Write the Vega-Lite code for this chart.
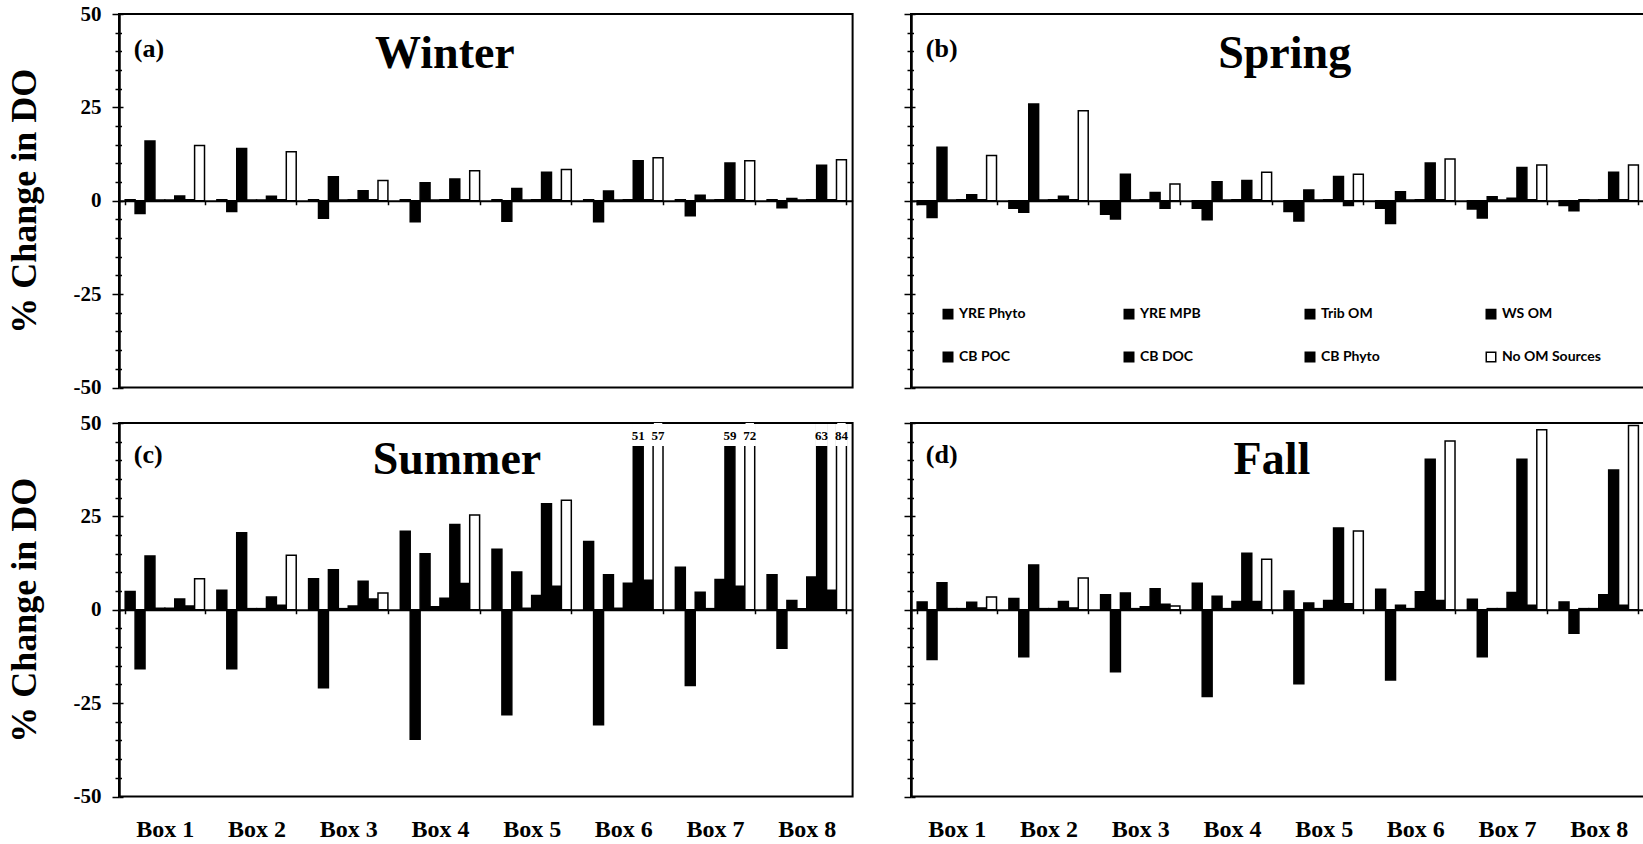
{
  "$schema": "https://vega.github.io/schema/vega-lite/v6.json",
  "background": "white",
  "padding": {"left": 5, "top": 2, "right": 0, "bottom": 0},
  "bounds": "flush",
  "columns": 2,
  "spacing": {"row": 35, "column": 58},
  "config": {
    "view": {"stroke": "black", "strokeWidth": 2},
    "axis": {"grid": false, "domainColor": "black", "tickColor": "black", "labelColor": "black", "titleColor": "black"}
  },
  "resolve": {"legend": {"color": "independent"}},
  "datasets": {
    "do": [
      {"season": "Winter", "box": "Box 1", "source": "YRE Phyto", "value": 0.3},
      {"season": "Winter", "box": "Box 1", "source": "YRE MPB", "value": -3.4},
      {"season": "Winter", "box": "Box 1", "source": "Trib OM", "value": 16.0},
      {"season": "Winter", "box": "Box 1", "source": "WS OM", "value": 0.2},
      {"season": "Winter", "box": "Box 1", "source": "CB POC", "value": 0.2},
      {"season": "Winter", "box": "Box 1", "source": "CB DOC", "value": 1.3},
      {"season": "Winter", "box": "Box 1", "source": "CB Phyto", "value": 0.3},
      {"season": "Winter", "box": "Box 1", "source": "No OM Sources", "value": 14.8},
      {"season": "Winter", "box": "Box 2", "source": "YRE Phyto", "value": 0.3},
      {"season": "Winter", "box": "Box 2", "source": "YRE MPB", "value": -2.9},
      {"season": "Winter", "box": "Box 2", "source": "Trib OM", "value": 14.0},
      {"season": "Winter", "box": "Box 2", "source": "WS OM", "value": 0.2},
      {"season": "Winter", "box": "Box 2", "source": "CB POC", "value": 0.2},
      {"season": "Winter", "box": "Box 2", "source": "CB DOC", "value": 1.2},
      {"season": "Winter", "box": "Box 2", "source": "CB Phyto", "value": 0.3},
      {"season": "Winter", "box": "Box 2", "source": "No OM Sources", "value": 13.1},
      {"season": "Winter", "box": "Box 3", "source": "YRE Phyto", "value": 0.3},
      {"season": "Winter", "box": "Box 3", "source": "YRE MPB", "value": -4.7},
      {"season": "Winter", "box": "Box 3", "source": "Trib OM", "value": 6.4},
      {"season": "Winter", "box": "Box 3", "source": "WS OM", "value": 0.2},
      {"season": "Winter", "box": "Box 3", "source": "CB POC", "value": 0.3},
      {"season": "Winter", "box": "Box 3", "source": "CB DOC", "value": 2.7},
      {"season": "Winter", "box": "Box 3", "source": "CB Phyto", "value": 0.3},
      {"season": "Winter", "box": "Box 3", "source": "No OM Sources", "value": 5.4},
      {"season": "Winter", "box": "Box 4", "source": "YRE Phyto", "value": 0.3},
      {"season": "Winter", "box": "Box 4", "source": "YRE MPB", "value": -5.6},
      {"season": "Winter", "box": "Box 4", "source": "Trib OM", "value": 4.8},
      {"season": "Winter", "box": "Box 4", "source": "WS OM", "value": 0.2},
      {"season": "Winter", "box": "Box 4", "source": "CB POC", "value": 0.3},
      {"season": "Winter", "box": "Box 4", "source": "CB DOC", "value": 5.8},
      {"season": "Winter", "box": "Box 4", "source": "CB Phyto", "value": 0.3},
      {"season": "Winter", "box": "Box 4", "source": "No OM Sources", "value": 8.0},
      {"season": "Winter", "box": "Box 5", "source": "YRE Phyto", "value": 0.3},
      {"season": "Winter", "box": "Box 5", "source": "YRE MPB", "value": -5.5},
      {"season": "Winter", "box": "Box 5", "source": "Trib OM", "value": 3.3},
      {"season": "Winter", "box": "Box 5", "source": "WS OM", "value": 0.2},
      {"season": "Winter", "box": "Box 5", "source": "CB POC", "value": 0.3},
      {"season": "Winter", "box": "Box 5", "source": "CB DOC", "value": 7.6},
      {"season": "Winter", "box": "Box 5", "source": "CB Phyto", "value": 0.3},
      {"season": "Winter", "box": "Box 5", "source": "No OM Sources", "value": 8.4},
      {"season": "Winter", "box": "Box 6", "source": "YRE Phyto", "value": 0.3},
      {"season": "Winter", "box": "Box 6", "source": "YRE MPB", "value": -5.6},
      {"season": "Winter", "box": "Box 6", "source": "Trib OM", "value": 2.6},
      {"season": "Winter", "box": "Box 6", "source": "WS OM", "value": 0.2},
      {"season": "Winter", "box": "Box 6", "source": "CB POC", "value": 0.3},
      {"season": "Winter", "box": "Box 6", "source": "CB DOC", "value": 10.7},
      {"season": "Winter", "box": "Box 6", "source": "CB Phyto", "value": 0.3},
      {"season": "Winter", "box": "Box 6", "source": "No OM Sources", "value": 11.5},
      {"season": "Winter", "box": "Box 7", "source": "YRE Phyto", "value": 0.3},
      {"season": "Winter", "box": "Box 7", "source": "YRE MPB", "value": -4.0},
      {"season": "Winter", "box": "Box 7", "source": "Trib OM", "value": 1.5},
      {"season": "Winter", "box": "Box 7", "source": "WS OM", "value": 0.2},
      {"season": "Winter", "box": "Box 7", "source": "CB POC", "value": 0.3},
      {"season": "Winter", "box": "Box 7", "source": "CB DOC", "value": 10.1},
      {"season": "Winter", "box": "Box 7", "source": "CB Phyto", "value": 0.3},
      {"season": "Winter", "box": "Box 7", "source": "No OM Sources", "value": 10.7},
      {"season": "Winter", "box": "Box 8", "source": "YRE Phyto", "value": 0.3},
      {"season": "Winter", "box": "Box 8", "source": "YRE MPB", "value": -1.9},
      {"season": "Winter", "box": "Box 8", "source": "Trib OM", "value": 0.6},
      {"season": "Winter", "box": "Box 8", "source": "WS OM", "value": 0.2},
      {"season": "Winter", "box": "Box 8", "source": "CB POC", "value": 0.3},
      {"season": "Winter", "box": "Box 8", "source": "CB DOC", "value": 9.5},
      {"season": "Winter", "box": "Box 8", "source": "CB Phyto", "value": 0.3},
      {"season": "Winter", "box": "Box 8", "source": "No OM Sources", "value": 11.0},

      {"season": "Spring", "box": "Box 1", "source": "YRE Phyto", "value": -1.0},
      {"season": "Spring", "box": "Box 1", "source": "YRE MPB", "value": -4.5},
      {"season": "Spring", "box": "Box 1", "source": "Trib OM", "value": 14.3},
      {"season": "Spring", "box": "Box 1", "source": "WS OM", "value": 0.2},
      {"season": "Spring", "box": "Box 1", "source": "CB POC", "value": 0.3},
      {"season": "Spring", "box": "Box 1", "source": "CB DOC", "value": 1.6},
      {"season": "Spring", "box": "Box 1", "source": "CB Phyto", "value": 0.3},
      {"season": "Spring", "box": "Box 1", "source": "No OM Sources", "value": 12.1},
      {"season": "Spring", "box": "Box 2", "source": "YRE Phyto", "value": -2.0},
      {"season": "Spring", "box": "Box 2", "source": "YRE MPB", "value": -3.1},
      {"season": "Spring", "box": "Box 2", "source": "Trib OM", "value": 25.9},
      {"season": "Spring", "box": "Box 2", "source": "WS OM", "value": 0.2},
      {"season": "Spring", "box": "Box 2", "source": "CB POC", "value": 0.3},
      {"season": "Spring", "box": "Box 2", "source": "CB DOC", "value": 1.2},
      {"season": "Spring", "box": "Box 2", "source": "CB Phyto", "value": 0.3},
      {"season": "Spring", "box": "Box 2", "source": "No OM Sources", "value": 24.1},
      {"season": "Spring", "box": "Box 3", "source": "YRE Phyto", "value": -3.6},
      {"season": "Spring", "box": "Box 3", "source": "YRE MPB", "value": -4.9},
      {"season": "Spring", "box": "Box 3", "source": "Trib OM", "value": 7.1},
      {"season": "Spring", "box": "Box 3", "source": "WS OM", "value": 0.2},
      {"season": "Spring", "box": "Box 3", "source": "CB POC", "value": 0.3},
      {"season": "Spring", "box": "Box 3", "source": "CB DOC", "value": 2.2},
      {"season": "Spring", "box": "Box 3", "source": "CB Phyto", "value": -2.0},
      {"season": "Spring", "box": "Box 3", "source": "No OM Sources", "value": 4.5},
      {"season": "Spring", "box": "Box 4", "source": "YRE Phyto", "value": -2.0},
      {"season": "Spring", "box": "Box 4", "source": "YRE MPB", "value": -5.1},
      {"season": "Spring", "box": "Box 4", "source": "Trib OM", "value": 5.1},
      {"season": "Spring", "box": "Box 4", "source": "WS OM", "value": 0.2},
      {"season": "Spring", "box": "Box 4", "source": "CB POC", "value": 0.3},
      {"season": "Spring", "box": "Box 4", "source": "CB DOC", "value": 5.4},
      {"season": "Spring", "box": "Box 4", "source": "CB Phyto", "value": 0.3},
      {"season": "Spring", "box": "Box 4", "source": "No OM Sources", "value": 7.6},
      {"season": "Spring", "box": "Box 5", "source": "YRE Phyto", "value": -2.9},
      {"season": "Spring", "box": "Box 5", "source": "YRE MPB", "value": -5.4},
      {"season": "Spring", "box": "Box 5", "source": "Trib OM", "value": 2.9},
      {"season": "Spring", "box": "Box 5", "source": "WS OM", "value": 0.2},
      {"season": "Spring", "box": "Box 5", "source": "CB POC", "value": 0.3},
      {"season": "Spring", "box": "Box 5", "source": "CB DOC", "value": 6.5},
      {"season": "Spring", "box": "Box 5", "source": "CB Phyto", "value": -1.3},
      {"season": "Spring", "box": "Box 5", "source": "No OM Sources", "value": 7.1},
      {"season": "Spring", "box": "Box 6", "source": "YRE Phyto", "value": -2.0},
      {"season": "Spring", "box": "Box 6", "source": "YRE MPB", "value": -6.1},
      {"season": "Spring", "box": "Box 6", "source": "Trib OM", "value": 2.4},
      {"season": "Spring", "box": "Box 6", "source": "WS OM", "value": 0.2},
      {"season": "Spring", "box": "Box 6", "source": "CB POC", "value": 0.3},
      {"season": "Spring", "box": "Box 6", "source": "CB DOC", "value": 10.1},
      {"season": "Spring", "box": "Box 6", "source": "CB Phyto", "value": 0.3},
      {"season": "Spring", "box": "Box 6", "source": "No OM Sources", "value": 11.2},
      {"season": "Spring", "box": "Box 7", "source": "YRE Phyto", "value": -2.2},
      {"season": "Spring", "box": "Box 7", "source": "YRE MPB", "value": -4.6},
      {"season": "Spring", "box": "Box 7", "source": "Trib OM", "value": 1.1},
      {"season": "Spring", "box": "Box 7", "source": "WS OM", "value": 0.2},
      {"season": "Spring", "box": "Box 7", "source": "CB POC", "value": 0.7},
      {"season": "Spring", "box": "Box 7", "source": "CB DOC", "value": 8.9},
      {"season": "Spring", "box": "Box 7", "source": "CB Phyto", "value": 0.3},
      {"season": "Spring", "box": "Box 7", "source": "No OM Sources", "value": 9.6},
      {"season": "Spring", "box": "Box 8", "source": "YRE Phyto", "value": -1.3},
      {"season": "Spring", "box": "Box 8", "source": "YRE MPB", "value": -2.7},
      {"season": "Spring", "box": "Box 8", "source": "Trib OM", "value": 0.3},
      {"season": "Spring", "box": "Box 8", "source": "WS OM", "value": 0.2},
      {"season": "Spring", "box": "Box 8", "source": "CB POC", "value": 0.3},
      {"season": "Spring", "box": "Box 8", "source": "CB DOC", "value": 7.6},
      {"season": "Spring", "box": "Box 8", "source": "CB Phyto", "value": 0.3},
      {"season": "Spring", "box": "Box 8", "source": "No OM Sources", "value": 9.6},

      {"season": "Summer", "box": "Box 1", "source": "YRE Phyto", "value": 4.9},
      {"season": "Summer", "box": "Box 1", "source": "YRE MPB", "value": -15.8},
      {"season": "Summer", "box": "Box 1", "source": "Trib OM", "value": 14.4},
      {"season": "Summer", "box": "Box 1", "source": "WS OM", "value": 0.4},
      {"season": "Summer", "box": "Box 1", "source": "CB POC", "value": 0.4},
      {"season": "Summer", "box": "Box 1", "source": "CB DOC", "value": 2.9},
      {"season": "Summer", "box": "Box 1", "source": "CB Phyto", "value": 1.0},
      {"season": "Summer", "box": "Box 1", "source": "No OM Sources", "value": 8.3},
      {"season": "Summer", "box": "Box 2", "source": "YRE Phyto", "value": 5.2},
      {"season": "Summer", "box": "Box 2", "source": "YRE MPB", "value": -15.8},
      {"season": "Summer", "box": "Box 2", "source": "Trib OM", "value": 20.6},
      {"season": "Summer", "box": "Box 2", "source": "WS OM", "value": 0.3},
      {"season": "Summer", "box": "Box 2", "source": "CB POC", "value": 0.3},
      {"season": "Summer", "box": "Box 2", "source": "CB DOC", "value": 3.4},
      {"season": "Summer", "box": "Box 2", "source": "CB Phyto", "value": 1.2},
      {"season": "Summer", "box": "Box 2", "source": "No OM Sources", "value": 14.6},
      {"season": "Summer", "box": "Box 3", "source": "YRE Phyto", "value": 8.3},
      {"season": "Summer", "box": "Box 3", "source": "YRE MPB", "value": -20.9},
      {"season": "Summer", "box": "Box 3", "source": "Trib OM", "value": 10.7},
      {"season": "Summer", "box": "Box 3", "source": "WS OM", "value": 0.3},
      {"season": "Summer", "box": "Box 3", "source": "CB POC", "value": 1.0},
      {"season": "Summer", "box": "Box 3", "source": "CB DOC", "value": 7.6},
      {"season": "Summer", "box": "Box 3", "source": "CB Phyto", "value": 2.9},
      {"season": "Summer", "box": "Box 3", "source": "No OM Sources", "value": 4.5},
      {"season": "Summer", "box": "Box 4", "source": "YRE Phyto", "value": 21.0},
      {"season": "Summer", "box": "Box 4", "source": "YRE MPB", "value": -34.7},
      {"season": "Summer", "box": "Box 4", "source": "Trib OM", "value": 15.0},
      {"season": "Summer", "box": "Box 4", "source": "WS OM", "value": 0.8},
      {"season": "Summer", "box": "Box 4", "source": "CB POC", "value": 3.1},
      {"season": "Summer", "box": "Box 4", "source": "CB DOC", "value": 22.8},
      {"season": "Summer", "box": "Box 4", "source": "CB Phyto", "value": 7.0},
      {"season": "Summer", "box": "Box 4", "source": "No OM Sources", "value": 25.4},
      {"season": "Summer", "box": "Box 5", "source": "YRE Phyto", "value": 16.2},
      {"season": "Summer", "box": "Box 5", "source": "YRE MPB", "value": -28.1},
      {"season": "Summer", "box": "Box 5", "source": "Trib OM", "value": 10.1},
      {"season": "Summer", "box": "Box 5", "source": "WS OM", "value": 0.4},
      {"season": "Summer", "box": "Box 5", "source": "CB POC", "value": 3.8},
      {"season": "Summer", "box": "Box 5", "source": "CB DOC", "value": 28.4},
      {"season": "Summer", "box": "Box 5", "source": "CB Phyto", "value": 6.3},
      {"season": "Summer", "box": "Box 5", "source": "No OM Sources", "value": 29.3},
      {"season": "Summer", "box": "Box 6", "source": "YRE Phyto", "value": 18.3},
      {"season": "Summer", "box": "Box 6", "source": "YRE MPB", "value": -30.8},
      {"season": "Summer", "box": "Box 6", "source": "Trib OM", "value": 9.4},
      {"season": "Summer", "box": "Box 6", "source": "WS OM", "value": 0.4},
      {"season": "Summer", "box": "Box 6", "source": "CB POC", "value": 7.1},
      {"season": "Summer", "box": "Box 6", "source": "CB DOC", "value": 51},
      {"season": "Summer", "box": "Box 6", "source": "CB Phyto", "value": 7.9},
      {"season": "Summer", "box": "Box 6", "source": "No OM Sources", "value": 57},
      {"season": "Summer", "box": "Box 7", "source": "YRE Phyto", "value": 11.4},
      {"season": "Summer", "box": "Box 7", "source": "YRE MPB", "value": -20.3},
      {"season": "Summer", "box": "Box 7", "source": "Trib OM", "value": 4.7},
      {"season": "Summer", "box": "Box 7", "source": "WS OM", "value": 0.3},
      {"season": "Summer", "box": "Box 7", "source": "CB POC", "value": 8.1},
      {"season": "Summer", "box": "Box 7", "source": "CB DOC", "value": 59},
      {"season": "Summer", "box": "Box 7", "source": "CB Phyto", "value": 6.3},
      {"season": "Summer", "box": "Box 7", "source": "No OM Sources", "value": 72},
      {"season": "Summer", "box": "Box 8", "source": "YRE Phyto", "value": 9.4},
      {"season": "Summer", "box": "Box 8", "source": "YRE MPB", "value": -10.3},
      {"season": "Summer", "box": "Box 8", "source": "Trib OM", "value": 2.5},
      {"season": "Summer", "box": "Box 8", "source": "WS OM", "value": 0.3},
      {"season": "Summer", "box": "Box 8", "source": "CB POC", "value": 8.8},
      {"season": "Summer", "box": "Box 8", "source": "CB DOC", "value": 63},
      {"season": "Summer", "box": "Box 8", "source": "CB Phyto", "value": 5.2},
      {"season": "Summer", "box": "Box 8", "source": "No OM Sources", "value": 84},

      {"season": "Fall", "box": "Box 1", "source": "YRE Phyto", "value": 2.1},
      {"season": "Fall", "box": "Box 1", "source": "YRE MPB", "value": -13.3},
      {"season": "Fall", "box": "Box 1", "source": "Trib OM", "value": 7.2},
      {"season": "Fall", "box": "Box 1", "source": "WS OM", "value": 0.3},
      {"season": "Fall", "box": "Box 1", "source": "CB POC", "value": 0.3},
      {"season": "Fall", "box": "Box 1", "source": "CB DOC", "value": 2.0},
      {"season": "Fall", "box": "Box 1", "source": "CB Phyto", "value": 0.5},
      {"season": "Fall", "box": "Box 1", "source": "No OM Sources", "value": 3.4},
      {"season": "Fall", "box": "Box 2", "source": "YRE Phyto", "value": 3.0},
      {"season": "Fall", "box": "Box 2", "source": "YRE MPB", "value": -12.6},
      {"season": "Fall", "box": "Box 2", "source": "Trib OM", "value": 12.0},
      {"season": "Fall", "box": "Box 2", "source": "WS OM", "value": 0.3},
      {"season": "Fall", "box": "Box 2", "source": "CB POC", "value": 0.3},
      {"season": "Fall", "box": "Box 2", "source": "CB DOC", "value": 2.2},
      {"season": "Fall", "box": "Box 2", "source": "CB Phyto", "value": 0.5},
      {"season": "Fall", "box": "Box 2", "source": "No OM Sources", "value": 8.5},
      {"season": "Fall", "box": "Box 3", "source": "YRE Phyto", "value": 4.0},
      {"season": "Fall", "box": "Box 3", "source": "YRE MPB", "value": -16.6},
      {"season": "Fall", "box": "Box 3", "source": "Trib OM", "value": 4.5},
      {"season": "Fall", "box": "Box 3", "source": "WS OM", "value": 0.3},
      {"season": "Fall", "box": "Box 3", "source": "CB POC", "value": 0.8},
      {"season": "Fall", "box": "Box 3", "source": "CB DOC", "value": 5.6},
      {"season": "Fall", "box": "Box 3", "source": "CB Phyto", "value": 1.5},
      {"season": "Fall", "box": "Box 3", "source": "No OM Sources", "value": 1.0},
      {"season": "Fall", "box": "Box 4", "source": "YRE Phyto", "value": 7.1},
      {"season": "Fall", "box": "Box 4", "source": "YRE MPB", "value": -23.2},
      {"season": "Fall", "box": "Box 4", "source": "Trib OM", "value": 3.6},
      {"season": "Fall", "box": "Box 4", "source": "WS OM", "value": 0.3},
      {"season": "Fall", "box": "Box 4", "source": "CB POC", "value": 2.2},
      {"season": "Fall", "box": "Box 4", "source": "CB DOC", "value": 15.1},
      {"season": "Fall", "box": "Box 4", "source": "CB Phyto", "value": 2.2},
      {"season": "Fall", "box": "Box 4", "source": "No OM Sources", "value": 13.5},
      {"season": "Fall", "box": "Box 5", "source": "YRE Phyto", "value": 5.0},
      {"season": "Fall", "box": "Box 5", "source": "YRE MPB", "value": -19.8},
      {"season": "Fall", "box": "Box 5", "source": "Trib OM", "value": 1.8},
      {"season": "Fall", "box": "Box 5", "source": "WS OM", "value": 0.3},
      {"season": "Fall", "box": "Box 5", "source": "CB POC", "value": 2.5},
      {"season": "Fall", "box": "Box 5", "source": "CB DOC", "value": 21.9},
      {"season": "Fall", "box": "Box 5", "source": "CB Phyto", "value": 1.6},
      {"season": "Fall", "box": "Box 5", "source": "No OM Sources", "value": 21.1},
      {"season": "Fall", "box": "Box 6", "source": "YRE Phyto", "value": 5.5},
      {"season": "Fall", "box": "Box 6", "source": "YRE MPB", "value": -18.8},
      {"season": "Fall", "box": "Box 6", "source": "Trib OM", "value": 1.2},
      {"season": "Fall", "box": "Box 6", "source": "WS OM", "value": 0.3},
      {"season": "Fall", "box": "Box 6", "source": "CB POC", "value": 4.8},
      {"season": "Fall", "box": "Box 6", "source": "CB DOC", "value": 40.3},
      {"season": "Fall", "box": "Box 6", "source": "CB Phyto", "value": 2.5},
      {"season": "Fall", "box": "Box 6", "source": "No OM Sources", "value": 45.2},
      {"season": "Fall", "box": "Box 7", "source": "YRE Phyto", "value": 2.8},
      {"season": "Fall", "box": "Box 7", "source": "YRE MPB", "value": -12.6},
      {"season": "Fall", "box": "Box 7", "source": "Trib OM", "value": 0.3},
      {"season": "Fall", "box": "Box 7", "source": "WS OM", "value": 0.3},
      {"season": "Fall", "box": "Box 7", "source": "CB POC", "value": 4.6},
      {"season": "Fall", "box": "Box 7", "source": "CB DOC", "value": 40.3},
      {"season": "Fall", "box": "Box 7", "source": "CB Phyto", "value": 1.2},
      {"season": "Fall", "box": "Box 7", "source": "No OM Sources", "value": 48.2},
      {"season": "Fall", "box": "Box 8", "source": "YRE Phyto", "value": 2.1},
      {"season": "Fall", "box": "Box 8", "source": "YRE MPB", "value": -6.3},
      {"season": "Fall", "box": "Box 8", "source": "Trib OM", "value": 0.3},
      {"season": "Fall", "box": "Box 8", "source": "WS OM", "value": 0.3},
      {"season": "Fall", "box": "Box 8", "source": "CB POC", "value": 4.0},
      {"season": "Fall", "box": "Box 8", "source": "CB DOC", "value": 37.4},
      {"season": "Fall", "box": "Box 8", "source": "CB Phyto", "value": 1.2},
      {"season": "Fall", "box": "Box 8", "source": "No OM Sources", "value": 49.3}
    ]
  },
  "concat": [
    {
      "width": 733.6,
      "height": 373.5,
      "resolve": {"axis": {"y": "independent"}},
      "layer": [
        {
          "data": {"name": "do"},
          "transform": [{"filter": "datum.season === 'Winter'"}],
          "mark": {"type": "bar", "stroke": "black", "strokeWidth": 1.5, "clip": true},
          "encoding": {
            "x": {"field": "box", "type": "nominal", "title": null,
              "scale": {"domain": ["Box 1","Box 2","Box 3","Box 4","Box 5","Box 6","Box 7","Box 8"], "paddingInner": 0.135, "paddingOuter": 0.0675},
              "axis": {"orient": "bottom", "offset": -186.75, "domainWidth": 2, "tickBand": "extent", "tickSize": 4, "tickWidth": 1.5, "labels": false, "zindex": 1}},
            "xOffset": {"field": "source", "type": "nominal",
              "scale": {"domain": ["YRE Phyto","YRE MPB","Trib OM","WS OM","CB POC","CB DOC","CB Phyto","No OM Sources"], "paddingInner": 0, "paddingOuter": 0}},
            "y": {"field": "value", "type": "quantitative", "scale": {"domain": [-50, 50], "nice": false, "zero": false},
              "axis": {"orient": "left", "values": [-50,-45,-40,-35,-30,-25,-20,-15,-10,-5,0,5,10,15,20,25,30,35,40,45,50],
                "labelExpr": "datum.value % 25 === 0 ? '' + datum.value : ''", "labelOverlap": false,
                "tickSize": {"condition": {"test": "datum.value % 25 === 0", "value": 7}, "value": 4},
                "tickWidth": 1.5, "domainWidth": 2.5,
                "labelFont": "Liberation Serif", "labelFontWeight": "bold", "labelFontSize": 21, "labelPadding": 11,
                "title": "% Change in DO", "titleFont": "Liberation Serif", "titleFontWeight": "bold", "titleFontSize": 36, "titlePadding": 30}},
            "color": {"field": "source", "type": "nominal",
              "scale": {"domain": ["YRE Phyto","YRE MPB","Trib OM","WS OM","CB POC","CB DOC","CB Phyto","No OM Sources"],
                "range": ["black","black","black","black","black","black","black","white"]}, "legend": null}
          }
        },
        {
          "data": {"values": [{"label": "(a)"}]},
          "mark": {"type": "text", "font": "Liberation Serif", "fontWeight": "bold", "fontSize": 26, "align": "left", "baseline": "middle", "dx": -31},
          "encoding": {"x": {"datum": "Box 1"}, "y": {"datum": 40.6,
              "axis": {"orient": "right", "offset": -733.6, "domain": false, "labels": false, "title": null,
                "values": [-50,-45,-40,-35,-30,-25,-20,-15,-10,-5,0,5,10,15,20,25,30,35,40,45,50],
                "tickSize": {"condition": {"test": "datum.value % 25 === 0", "value": 4}, "value": 2.5}, "tickWidth": 1.5, "zindex": 1}},
            "text": {"field": "label"}}
        },
        {
          "data": {"values": [{"label": "Winter"}]},
          "mark": {"type": "text", "font": "Liberation Serif", "fontWeight": "bold", "fontSize": 46, "align": "center", "baseline": "middle", "dx": 5},
          "encoding": {"x": {"datum": "Box 4"}, "y": {"datum": 39.3, "axis": null}, "text": {"field": "label"}}
        }
      ]
    },
    {
      "width": 733.6,
      "height": 373.5,
      "resolve": {"axis": {"y": "independent"}},
      "layer": [
        {
          "data": {"name": "do"},
          "transform": [{"filter": "datum.season === 'Spring'"}],
          "mark": {"type": "bar", "stroke": "black", "strokeWidth": 1.5, "clip": true},
          "encoding": {
            "x": {"field": "box", "type": "nominal", "title": null,
              "scale": {"domain": ["Box 1","Box 2","Box 3","Box 4","Box 5","Box 6","Box 7","Box 8"], "paddingInner": 0.135, "paddingOuter": 0.0675},
              "axis": {"orient": "bottom", "offset": -186.75, "domainWidth": 2, "tickBand": "extent", "tickSize": 4, "tickWidth": 1.5, "labels": false, "zindex": 1}},
            "xOffset": {"field": "source", "type": "nominal",
              "scale": {"domain": ["YRE Phyto","YRE MPB","Trib OM","WS OM","CB POC","CB DOC","CB Phyto","No OM Sources"], "paddingInner": 0, "paddingOuter": 0}},
            "y": {"field": "value", "type": "quantitative", "scale": {"domain": [-50, 50], "nice": false, "zero": false},
              "axis": {"orient": "left", "values": [-50,-45,-40,-35,-30,-25,-20,-15,-10,-5,0,5,10,15,20,25,30,35,40,45,50],
                "labels": false,
                "tickSize": {"condition": {"test": "datum.value % 25 === 0", "value": 7}, "value": 4},
                "tickWidth": 1.5, "domainWidth": 2.5, "title": null}},
            "color": {"field": "source", "type": "nominal",
              "scale": {"domain": ["YRE Phyto","YRE MPB","Trib OM","WS OM","CB POC","CB DOC","CB Phyto","No OM Sources"],
                "range": ["black","black","black","black","black","black","black","white"]},
              "legend": {"orient": "none", "legendX": 30, "legendY": 293, "columns": 4, "direction": "horizontal", "gridAlign": "all",
                "columnPadding": 63, "rowPadding": 27, "symbolType": "square", "symbolSize": 90, "symbolStrokeColor": "black", "symbolStrokeWidth": 1.5,
                "labelFont": "Lato", "labelFontWeight": "bold", "labelFontSize": 14, "labelColor": "black", "labelOffset": 4, "title": null}}
          }
        },
        {
          "data": {"values": [{"label": "(b)"}]},
          "mark": {"type": "text", "font": "Liberation Serif", "fontWeight": "bold", "fontSize": 26, "align": "left", "baseline": "middle", "dx": -31},
          "encoding": {"x": {"datum": "Box 1"}, "y": {"datum": 40.6,
              "axis": {"orient": "right", "offset": -733.6, "domain": false, "labels": false, "title": null,
                "values": [-50,-45,-40,-35,-30,-25,-20,-15,-10,-5,0,5,10,15,20,25,30,35,40,45,50],
                "tickSize": {"condition": {"test": "datum.value % 25 === 0", "value": 4}, "value": 2.5}, "tickWidth": 1.5, "zindex": 1}},
            "text": {"field": "label"}}
        },
        {
          "data": {"values": [{"label": "Spring"}]},
          "mark": {"type": "text", "font": "Liberation Serif", "fontWeight": "bold", "fontSize": 46, "align": "center", "baseline": "middle", "dx": -39},
          "encoding": {"x": {"datum": "Box 5"}, "y": {"datum": 39.3, "axis": null}, "text": {"field": "label"}}
        }
      ]
    },
    {
      "width": 733.6,
      "height": 373.5,
      "resolve": {"axis": {"y": "independent"}},
      "layer": [
        {
          "data": {"name": "do"},
          "transform": [{"filter": "datum.season === 'Summer'"}],
          "mark": {"type": "bar", "stroke": "black", "strokeWidth": 1.5, "clip": true},
          "encoding": {
            "x": {"field": "box", "type": "nominal", "title": null,
              "scale": {"domain": ["Box 1","Box 2","Box 3","Box 4","Box 5","Box 6","Box 7","Box 8"], "paddingInner": 0.135, "paddingOuter": 0.0675},
              "axis": {"orient": "bottom", "offset": -186.75, "domainWidth": 2, "tickBand": "extent", "tickSize": 4, "tickWidth": 1.5,
                "labels": true, "labelPadding": 203.75, "labelFont": "Liberation Serif", "labelFontWeight": "bold", "labelFontSize": 24, "labelAngle": 0, "labelOverlap": false, "zindex": 1}},
            "xOffset": {"field": "source", "type": "nominal",
              "scale": {"domain": ["YRE Phyto","YRE MPB","Trib OM","WS OM","CB POC","CB DOC","CB Phyto","No OM Sources"], "paddingInner": 0, "paddingOuter": 0}},
            "y": {"field": "value", "type": "quantitative", "scale": {"domain": [-50, 50], "nice": false, "zero": false},
              "axis": {"orient": "left", "values": [-50,-45,-40,-35,-30,-25,-20,-15,-10,-5,0,5,10,15,20,25,30,35,40,45,50],
                "labelExpr": "datum.value % 25 === 0 ? '' + datum.value : ''", "labelOverlap": false,
                "tickSize": {"condition": {"test": "datum.value % 25 === 0", "value": 7}, "value": 4},
                "tickWidth": 1.5, "domainWidth": 2.5,
                "labelFont": "Liberation Serif", "labelFontWeight": "bold", "labelFontSize": 21, "labelPadding": 11,
                "title": "% Change in DO", "titleFont": "Liberation Serif", "titleFontWeight": "bold", "titleFontSize": 36, "titlePadding": 30}},
            "color": {"field": "source", "type": "nominal",
              "scale": {"domain": ["YRE Phyto","YRE MPB","Trib OM","WS OM","CB POC","CB DOC","CB Phyto","No OM Sources"],
                "range": ["black","black","black","black","black","black","black","white"]}, "legend": null}
          }
        },
        {
          "data": {"name": "do"},
          "transform": [{"filter": "datum.season === 'Summer' && datum.value > 50"}],
          "mark": {"type": "bar", "fill": "white", "stroke": "white", "strokeWidth": 2.5},
          "encoding": {
            "x": {"field": "box", "type": "nominal"},
            "xOffset": {"field": "source", "type": "nominal"},
            "y": {"datum": 44.2, "axis": null},
            "y2": {"datum": 49.4}
          }
        },
        {
          "data": {"name": "do"},
          "transform": [{"filter": "datum.season === 'Summer' && datum.value > 50"}],
          "mark": {"type": "text", "font": "Liberation Serif", "fontWeight": "bold", "fontSize": 13, "align": "center", "baseline": "middle"},
          "encoding": {
            "x": {"field": "box", "type": "nominal"},
            "xOffset": {"field": "source", "type": "nominal"},
            "y": {"datum": 46.6, "axis": null},
            "text": {"field": "value", "type": "quantitative"}
          }
        },
        {
          "data": {"values": [{"label": "(c)"}]},
          "mark": {"type": "text", "font": "Liberation Serif", "fontWeight": "bold", "fontSize": 26, "align": "left", "baseline": "middle", "dx": -31},
          "encoding": {"x": {"datum": "Box 1"}, "y": {"datum": 41.5,
              "axis": {"orient": "right", "offset": -733.6, "domain": false, "labels": false, "title": null,
                "values": [-50,-45,-40,-35,-30,-25,-20,-15,-10,-5,0,5,10,15,20,25,30,35,40,45,50],
                "tickSize": {"condition": {"test": "datum.value % 25 === 0", "value": 4}, "value": 2.5}, "tickWidth": 1.5, "zindex": 1}},
            "text": {"field": "label"}}
        },
        {
          "data": {"values": [{"label": "Summer"}]},
          "mark": {"type": "text", "font": "Liberation Serif", "fontWeight": "bold", "fontSize": 46, "align": "center", "baseline": "middle", "dx": 17},
          "encoding": {"x": {"datum": "Box 4"}, "y": {"datum": 40, "axis": null}, "text": {"field": "label"}}
        }
      ]
    },
    {
      "width": 733.6,
      "height": 373.5,
      "resolve": {"axis": {"y": "independent"}},
      "layer": [
        {
          "data": {"name": "do"},
          "transform": [{"filter": "datum.season === 'Fall'"}],
          "mark": {"type": "bar", "stroke": "black", "strokeWidth": 1.5, "clip": true},
          "encoding": {
            "x": {"field": "box", "type": "nominal", "title": null,
              "scale": {"domain": ["Box 1","Box 2","Box 3","Box 4","Box 5","Box 6","Box 7","Box 8"], "paddingInner": 0.135, "paddingOuter": 0.0675},
              "axis": {"orient": "bottom", "offset": -186.75, "domainWidth": 2, "tickBand": "extent", "tickSize": 4, "tickWidth": 1.5,
                "labels": true, "labelPadding": 203.75, "labelFont": "Liberation Serif", "labelFontWeight": "bold", "labelFontSize": 24, "labelAngle": 0, "labelOverlap": false, "zindex": 1}},
            "xOffset": {"field": "source", "type": "nominal",
              "scale": {"domain": ["YRE Phyto","YRE MPB","Trib OM","WS OM","CB POC","CB DOC","CB Phyto","No OM Sources"], "paddingInner": 0, "paddingOuter": 0}},
            "y": {"field": "value", "type": "quantitative", "scale": {"domain": [-50, 50], "nice": false, "zero": false},
              "axis": {"orient": "left", "values": [-50,-45,-40,-35,-30,-25,-20,-15,-10,-5,0,5,10,15,20,25,30,35,40,45,50],
                "labels": false,
                "tickSize": {"condition": {"test": "datum.value % 25 === 0", "value": 7}, "value": 4},
                "tickWidth": 1.5, "domainWidth": 2.5, "title": null}},
            "color": {"field": "source", "type": "nominal",
              "scale": {"domain": ["YRE Phyto","YRE MPB","Trib OM","WS OM","CB POC","CB DOC","CB Phyto","No OM Sources"],
                "range": ["black","black","black","black","black","black","black","white"]}, "legend": null}
          }
        },
        {
          "data": {"values": [{"label": "(d)"}]},
          "mark": {"type": "text", "font": "Liberation Serif", "fontWeight": "bold", "fontSize": 26, "align": "left", "baseline": "middle", "dx": -31},
          "encoding": {"x": {"datum": "Box 1"}, "y": {"datum": 41.5,
              "axis": {"orient": "right", "offset": -733.6, "domain": false, "labels": false, "title": null,
                "values": [-50,-45,-40,-35,-30,-25,-20,-15,-10,-5,0,5,10,15,20,25,30,35,40,45,50],
                "tickSize": {"condition": {"test": "datum.value % 25 === 0", "value": 4}, "value": 2.5}, "tickWidth": 1.5, "zindex": 1}},
            "text": {"field": "label"}}
        },
        {
          "data": {"values": [{"label": "Fall"}]},
          "mark": {"type": "text", "font": "Liberation Serif", "fontWeight": "bold", "fontSize": 46, "align": "center", "baseline": "middle", "dx": 40},
          "encoding": {"x": {"datum": "Box 4"}, "y": {"datum": 40, "axis": null}, "text": {"field": "label"}}
        }
      ]
    }
  ]
}
